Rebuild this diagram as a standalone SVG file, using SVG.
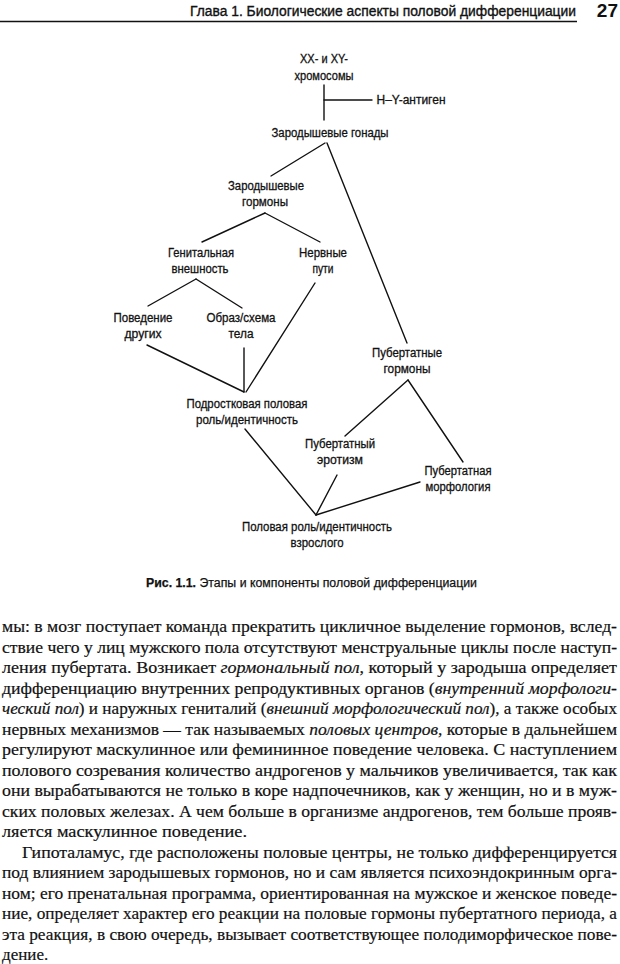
<svg xmlns="http://www.w3.org/2000/svg" width="620" height="964" viewBox="0 0 620 964">
<style>
.lbl{font-family:"Liberation Sans Narrow","Liberation Sans",Arial,sans-serif;font-size:12.5px;fill:#111;stroke:#111;stroke-width:0.3;text-anchor:middle}
.hdr{font-family:"Liberation Sans Narrow","Liberation Sans",Arial,sans-serif;font-size:14px;fill:#111;stroke:#111;stroke-width:0.35}
.cap{font-family:"Liberation Sans Narrow","Liberation Sans",Arial,sans-serif;font-size:12.5px;fill:#111;stroke:#111;stroke-width:0.25}
.body{font-family:"Liberation Serif","Times New Roman",serif;font-size:17px;fill:#111;stroke:#111;stroke-width:0.2}
.it{font-style:italic}
.ln{stroke:#111;stroke-width:1.4;fill:none;stroke-linecap:round}
</style>
<rect width="620" height="964" fill="#fff"/>
<g id="header">
<text class="hdr" x="190" y="16" textLength="386" lengthAdjust="spacingAndGlyphs">Глава 1. Биологические аспекты половой дифференциации</text>
<text x="618" y="17" text-anchor="end" font-family="Liberation Sans, Arial, sans-serif" font-size="19" font-weight="bold" fill="#111">27</text>
<line x1="0" y1="21.5" x2="577" y2="21.5" stroke="#111" stroke-width="1.6"/>
</g>
<g id="connectors">
<line class="ln" x1="324" y1="85" x2="324" y2="120"/>
<line class="ln" x1="324" y1="100" x2="372" y2="100"/>
<line class="ln" x1="325" y1="143" x2="271" y2="176"/>
<line class="ln" x1="327" y1="143" x2="407" y2="343"/>
<line class="ln" x1="265" y1="213" x2="202" y2="242"/>
<line class="ln" x1="265" y1="213" x2="320" y2="242"/>
<line class="ln" x1="196" y1="279" x2="148" y2="306"/>
<line class="ln" x1="196" y1="279" x2="242" y2="308"/>
<line class="ln" x1="147" y1="345" x2="244" y2="392"/>
<line class="ln" x1="244" y1="348" x2="244" y2="392"/>
<line class="ln" x1="315" y1="283" x2="246" y2="392"/>
<line class="ln" x1="408" y1="380" x2="345" y2="436"/>
<line class="ln" x1="408" y1="380" x2="463" y2="462"/>
<line class="ln" x1="245" y1="429" x2="316" y2="515"/>
<line class="ln" x1="337" y1="475" x2="316" y2="515"/>
<line class="ln" x1="420" y1="482" x2="316" y2="515"/>
</g>
<g id="chromosomes">
<text class="lbl" x="324" y="63" textLength="48" lengthAdjust="spacingAndGlyphs">XX- и XY-</text>
<text class="lbl" x="324" y="80" textLength="59" lengthAdjust="spacingAndGlyphs">хромосомы</text>
</g>
<g id="hy-antigen">
<text class="lbl" x="411" y="104" textLength="69" lengthAdjust="spacingAndGlyphs">H–Y-антиген</text>
</g>
<g id="gonads">
<text class="lbl" x="330" y="137" textLength="117" lengthAdjust="spacingAndGlyphs">Зародышевые гонады</text>
</g>
<g id="fetal-hormones">
<text class="lbl" x="266" y="190" textLength="76" lengthAdjust="spacingAndGlyphs">Зародышевые</text>
<text class="lbl" x="265" y="206" textLength="46" lengthAdjust="spacingAndGlyphs">гормоны</text>
</g>
<g id="genital">
<text class="lbl" x="201" y="257" textLength="66" lengthAdjust="spacingAndGlyphs">Генитальная</text>
<text class="lbl" x="200" y="273" textLength="57" lengthAdjust="spacingAndGlyphs">внешность</text>
</g>
<g id="nerve-paths">
<text class="lbl" x="323" y="257" textLength="48" lengthAdjust="spacingAndGlyphs">Нервные</text>
<text class="lbl" x="323" y="273" textLength="21" lengthAdjust="spacingAndGlyphs">пути</text>
</g>
<g id="others-behaviour">
<text class="lbl" x="143" y="322" textLength="59" lengthAdjust="spacingAndGlyphs">Поведение</text>
<text class="lbl" x="143" y="338" textLength="37" lengthAdjust="spacingAndGlyphs">других</text>
</g>
<g id="body-image">
<text class="lbl" x="241" y="322" textLength="69" lengthAdjust="spacingAndGlyphs">Образ/схема</text>
<text class="lbl" x="241" y="338" textLength="25" lengthAdjust="spacingAndGlyphs">тела</text>
</g>
<g id="adolescent-role">
<text class="lbl" x="247" y="408" textLength="121" lengthAdjust="spacingAndGlyphs">Подростковая половая</text>
<text class="lbl" x="247" y="424" textLength="102" lengthAdjust="spacingAndGlyphs">роль/идентичность</text>
</g>
<g id="pubertal-hormones">
<text class="lbl" x="407" y="357" textLength="70" lengthAdjust="spacingAndGlyphs">Пубертатные</text>
<text class="lbl" x="407" y="373" textLength="47" lengthAdjust="spacingAndGlyphs">гормоны</text>
</g>
<g id="pubertal-eroticism">
<text class="lbl" x="340" y="448" textLength="70" lengthAdjust="spacingAndGlyphs">Пубертатный</text>
<text class="lbl" x="340" y="464" textLength="46" lengthAdjust="spacingAndGlyphs">эротизм</text>
</g>
<g id="pubertal-morphology">
<text class="lbl" x="458" y="475" textLength="67" lengthAdjust="spacingAndGlyphs">Пубертатная</text>
<text class="lbl" x="458" y="491" textLength="65" lengthAdjust="spacingAndGlyphs">морфология</text>
</g>
<g id="adult-role">
<text class="lbl" x="317" y="531" textLength="150" lengthAdjust="spacingAndGlyphs">Половая роль/идентичность</text>
<text class="lbl" x="317" y="547" textLength="53" lengthAdjust="spacingAndGlyphs">взрослого</text>
</g>
<g id="caption">
<text class="cap" x="146" y="587" textLength="331" lengthAdjust="spacingAndGlyphs"><tspan font-weight="bold">Рис. 1.1.</tspan> Этапы и компоненты половой дифференциации</text>
</g>
<g id="body-text">
<text class="body" x="2" y="632" textLength="615" lengthAdjust="spacingAndGlyphs">мы: в мозг поступает команда прекратить цикличное выделение гормонов, вслед-</text>
<text class="body" x="2" y="652.5" textLength="615" lengthAdjust="spacingAndGlyphs">ствие чего у лиц мужского пола отсутствуют менструальные циклы после наступ-</text>
<text class="body" x="2" y="673" textLength="615" lengthAdjust="spacingAndGlyphs">ления пубертата. Возникает <tspan class="it">гормональный пол</tspan>, который у зародыша определяет</text>
<text class="body" x="2" y="693.5" textLength="615" lengthAdjust="spacingAndGlyphs">дифференциацию внутренних репродуктивных органов (<tspan class="it">внутренний морфологи-</tspan></text>
<text class="body" x="2" y="714" textLength="615" lengthAdjust="spacingAndGlyphs"><tspan class="it">ческий пол</tspan>) и наружных гениталий (<tspan class="it">внешний морфологический пол</tspan>), а также особых</text>
<text class="body" x="2" y="734.5" textLength="615" lengthAdjust="spacingAndGlyphs">нервных механизмов — так называемых <tspan class="it">половых центров</tspan>, которые в дальнейшем</text>
<text class="body" x="2" y="755" textLength="615" lengthAdjust="spacingAndGlyphs">регулируют маскулинное или фемининное поведение человека. С наступлением</text>
<text class="body" x="2" y="775.5" textLength="615" lengthAdjust="spacingAndGlyphs">полового созревания количество андрогенов у мальчиков увеличивается, так как</text>
<text class="body" x="2" y="796" textLength="615" lengthAdjust="spacingAndGlyphs">они вырабатываются не только в коре надпочечников, как у женщин, но и в муж-</text>
<text class="body" x="2" y="816.5" textLength="615" lengthAdjust="spacingAndGlyphs">ских половых железах. А чем больше в организме андрогенов, тем больше прояв-</text>
<text class="body" x="2" y="837" textLength="245" lengthAdjust="spacingAndGlyphs">ляется маскулинное поведение.</text>
<text class="body" x="22" y="857.5" textLength="595" lengthAdjust="spacingAndGlyphs">Гипоталамус, где расположены половые центры, не только дифференцируется</text>
<text class="body" x="2" y="878" textLength="615" lengthAdjust="spacingAndGlyphs">под влиянием зародышевых гормонов, но и сам является психоэндокринным орга-</text>
<text class="body" x="2" y="898.5" textLength="615" lengthAdjust="spacingAndGlyphs">ном; его пренатальная программа, ориентированная на мужское и женское поведе-</text>
<text class="body" x="2" y="919" textLength="615" lengthAdjust="spacingAndGlyphs">ние, определяет характер его реакции на половые гормоны пубертатного периода, а</text>
<text class="body" x="2" y="939.5" textLength="615" lengthAdjust="spacingAndGlyphs">эта реакция, в свою очередь, вызывает соответствующее полодиморфическое пове-</text>
<text class="body" x="2" y="960">дение.</text>
</g>
</svg>
